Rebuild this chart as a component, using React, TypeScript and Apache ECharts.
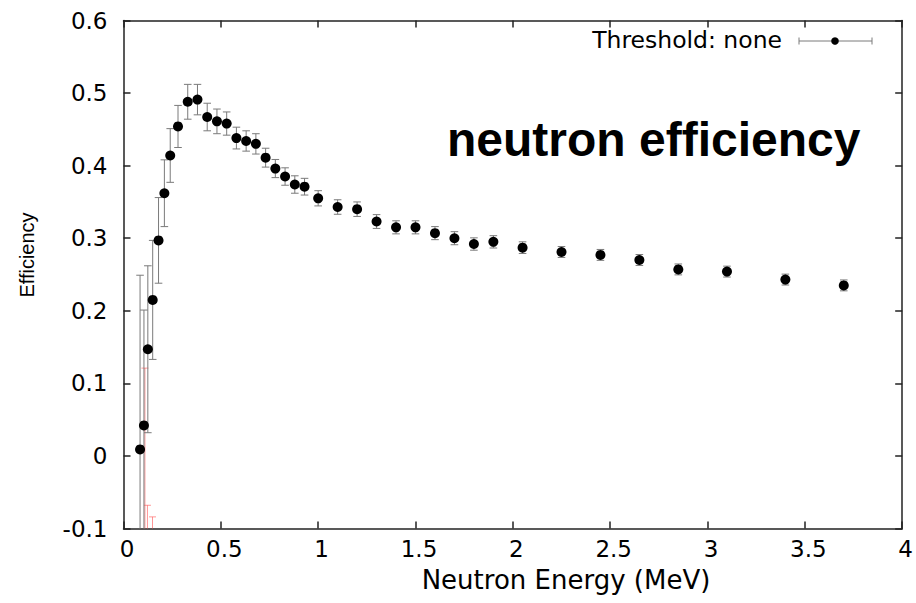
import React, { useEffect, useRef } from "react";
import * as echarts from "echarts";

// Neutron energy (MeV)
const energy = [0.085, 0.105, 0.125, 0.15, 0.18, 0.21, 0.24, 0.28, 0.33, 0.38, 0.43, 0.48, 0.53, 0.58, 0.63, 0.68, 0.73, 0.78, 0.83, 0.88, 0.93, 1.0, 1.1, 1.2, 1.3, 1.4, 1.5, 1.6, 1.7, 1.8, 1.9, 2.05, 2.25, 2.45, 2.65, 2.85, 3.1, 3.4, 3.7];
// Efficiency values
const efficiency = [0.009, 0.042, 0.147, 0.215, 0.297, 0.362, 0.414, 0.454, 0.488, 0.491, 0.467, 0.461, 0.458, 0.438, 0.434, 0.430, 0.411, 0.396, 0.385, 0.374, 0.371, 0.355, 0.343, 0.340, 0.323, 0.315, 0.315, 0.307, 0.300, 0.292, 0.295, 0.287, 0.281, 0.277, 0.270, 0.257, 0.254, 0.243, 0.235];
// Symmetric errors
const errors = [0.24, 0.159, 0.115, 0.082, 0.059, 0.046, 0.037, 0.029, 0.024, 0.021, 0.019, 0.017, 0.016, 0.015, 0.014, 0.014, 0.013, 0.0125, 0.012, 0.012, 0.0115, 0.0105, 0.01, 0.01, 0.0095, 0.009, 0.009, 0.009, 0.009, 0.0085, 0.0085, 0.008, 0.0075, 0.0075, 0.0075, 0.0075, 0.0075, 0.0075, 0.0075];
// Faint red bars near the origin (mostly below the axis)
const redEnergy = [0.11, 0.123, 0.149];
const redTop = [0.121, -0.068, -0.084];
const redBottom = [-0.35, -0.25, -0.2];

const xTicks = { min: 0, max: 4, interval: 0.5 };
const yTicks = { min: -0.1, max: 0.6, interval: 0.1 };

const FONT = "DejaVu Sans";

function errRender(color: string, hw: number) {
  return (params: any, api: any) => {
    const x = api.value(0);
    const lo = api.value(1);
    const hi = api.value(2);
    const pLo = api.coord([x, lo]);
    const pHi = api.coord([x, hi]);
    const style = { stroke: color, lineWidth: 1 };
    return {
      type: "group",
      children: [
        { type: "line", shape: { x1: pHi[0], y1: pHi[1], x2: pLo[0], y2: pLo[1] }, style },
        { type: "line", shape: { x1: pHi[0] - hw, y1: pHi[1], x2: pHi[0] + hw, y2: pHi[1] }, style },
        { type: "line", shape: { x1: pLo[0] - hw, y1: pLo[1], x2: pLo[0] + hw, y2: pLo[1] }, style },
      ],
    };
  };
}

const fmt = (v: number) => String(+v.toFixed(2));

export default function App() {
  const ref = useRef<HTMLDivElement>(null);
  useEffect(() => {
    if (!ref.current) return;
    const chart = echarts.init(ref.current, null, { renderer: "svg" });
    const points = energy.map((e, i) => [e, efficiency[i]]);
    const bars = energy.map((e, i) => [e, efficiency[i] - errors[i], efficiency[i] + errors[i]]);
    const redBars = redEnergy.map((e, i) => [e, redBottom[i], redTop[i]]);
    const axisLineStyle = { color: "#222", width: 1.5 };
    const line = { show: true, onZero: false, lineStyle: axisLineStyle };
    const tick = { show: true, inside: true, length: 7, lineStyle: axisLineStyle };
    chart.setOption({
      animation: false,
      backgroundColor: "#fff",
      grid: { left: 123.5, right: 12.5, top: 20.5, bottom: 74.5, containLabel: false },
      xAxis: [
        {
          type: "value", ...xTicks, position: "bottom",
          axisLine: line, axisTick: tick, splitLine: { show: false },
          axisLabel: { color: "#000", fontFamily: FONT, fontSize: 23, margin: 9, padding: [0, 0, 0, 7], formatter: fmt },
        },
        {
          type: "value", ...xTicks, position: "top",
          axisLine: line, axisTick: tick, splitLine: { show: false },
          axisLabel: { show: false },
        },
      ],
      yAxis: [
        {
          type: "value", ...yTicks, position: "left",
          axisLine: line, axisTick: tick, splitLine: { show: false },
          axisLabel: { color: "#000", fontFamily: FONT, fontSize: 23, margin: 16, formatter: fmt },
        },
        {
          type: "value", ...yTicks, position: "right",
          axisLine: line, axisTick: tick, splitLine: { show: false },
          axisLabel: { show: false },
        },
      ],
      series: [
        {
          type: "custom", name: "red", xAxisIndex: 0, yAxisIndex: 0, clip: true,
          renderItem: errRender("rgba(255,80,80,0.6)", 3.5),
          encode: { x: 0, y: [1, 2] }, data: redBars, z: 1,
        },
        {
          type: "custom", name: "err", xAxisIndex: 0, yAxisIndex: 0, clip: true,
          renderItem: errRender("#7a7a7a", 3.8),
          encode: { x: 0, y: [1, 2] }, data: bars, z: 2,
        },
        {
          type: "scatter", name: "Threshold: none", xAxisIndex: 0, yAxisIndex: 0,
          symbol: "circle", symbolSize: 10, itemStyle: { color: "#000", opacity: 1 },
          data: points, z: 3,
        },
      ],
      graphic: [
        {
          type: "text", x: 447, y: 139,
          style: { text: "neutron efficiency", fill: "#000", font: "bold 48px 'Liberation Sans', Arial, sans-serif", textAlign: "left", textVerticalAlign: "middle" },
        },
        {
          type: "text", x: 782, y: 40,
          style: { text: "Threshold: none", fill: "#000", font: `23.5px '${FONT}'`, textAlign: "right", textVerticalAlign: "middle" },
        },
        { type: "line", shape: { x1: 799, y1: 41, x2: 872, y2: 41 }, style: { stroke: "#7a7a7a", lineWidth: 1 } },
        { type: "line", shape: { x1: 799, y1: 37.5, x2: 799, y2: 44.5 }, style: { stroke: "#7a7a7a", lineWidth: 1 } },
        { type: "line", shape: { x1: 872, y1: 37.5, x2: 872, y2: 44.5 }, style: { stroke: "#7a7a7a", lineWidth: 1 } },
        { type: "circle", shape: { cx: 835, cy: 41, r: 3.8 }, style: { fill: "#000" } },
        {
          type: "text", x: 566, y: 580,
          style: { text: "Neutron Energy (MeV)", fill: "#000", font: `26px '${FONT}'`, textAlign: "center", textVerticalAlign: "middle" },
        },
        {
          type: "text", x: 27, y: 255, rotation: Math.PI / 2,
          style: { text: "Efficiency", fill: "#000", font: "20px 'Liberation Sans', Arial, sans-serif", textAlign: "center", textVerticalAlign: "middle" },
        },
      ],
    });
    return () => chart.dispose();
  }, []);
  return <div ref={ref} style={{ position: "fixed", left: 0, top: 0, width: 916, height: 603, background: "#fff" }} />;
}
